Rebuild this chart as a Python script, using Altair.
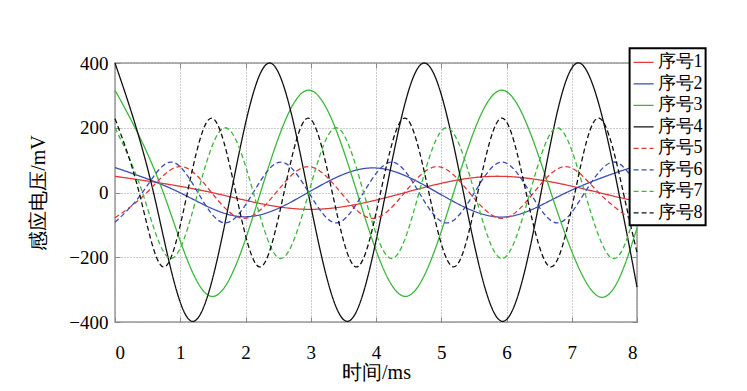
import altair as alt
import pandas as pd

names = ["序号1", "序号2", "序号3", "序号4", "序号5", "序号6", "序号7", "序号8"]

# key points (peaks, troughs, zero crossings), ms / mV
t1 = [0, 1.48, 2.96, 4.45, 5.93, 7.41, 8.0]
v1 = [50, 0, -52, 0, 50, 0, -27]

t2 = [0, 0.99, 1.97, 2.96, 3.95, 4.94, 5.93, 6.92, 7.9, 8.0]
v2 = [77, 0, -75, 0, 76, 0, -76, 0, 76, 75]

t3 = [0, 0.74, 1.48, 2.23, 2.97, 3.71, 4.45, 5.19, 5.93, 6.68, 7.42, 8.0]
v3 = [316, 0, -321, 0, 316, 0, -321, 0, 316, 0, -322, -110]

t4 = [0, 0.59, 1.18, 1.78, 2.37, 2.96, 3.56, 4.15, 4.74, 5.34, 5.94, 6.53, 7.12, 7.72, 8.0]
v4 = [400, 0, -398, 0, 400, 0, -398, 0, 400, 0, -398, 0, 400, 0, -292]

t5 = [0, 0.49, 0.99, 1.48, 1.97, 2.47, 2.96, 3.46, 3.95, 4.44, 4.94, 5.43, 5.93, 6.42, 6.91, 7.41, 7.9, 8.0]
v5 = [-78, 0, 80, 0, -80, 0, 80, 0, -80, 0, 80, 0, -80, 0, 80, 0, -80, -77]

t6 = [0, 0.42, 0.85, 1.27, 1.69, 2.12, 2.54, 2.97, 3.39, 3.81, 4.24, 4.66, 5.08, 5.51, 5.93, 6.36, 6.78, 7.2, 7.63, 8.0]
v6 = [-92, 0, 94, 0, -94, 0, 94, 0, -94, 0, 94, 0, -94, 0, 94, 0, -94, 0, 94, 20]

t7 = [0, 0.42, 0.85, 1.27, 1.69, 2.12, 2.54, 2.97, 3.39, 3.81, 4.24, 4.66, 5.08, 5.51, 5.93, 6.36, 6.78, 7.2, 7.63, 8.0]
v7 = [200, 0, -204, 0, 200, 0, -204, 0, 200, 0, -204, 0, 200, 0, -204, 0, 200, 0, -204, -40]

t8 = [0, 0.37, 0.74, 1.11, 1.48, 1.85, 2.22, 2.59, 2.96, 3.33, 3.7, 4.07, 4.44, 4.81, 5.19, 5.56, 5.93, 6.3, 6.68, 7.05, 7.42, 7.79, 8.0]
v8 = [228, 0, -230, 0, 230, 0, -230, 0, 230, 0, -230, 0, 230, 0, -230, 0, 230, 0, -230, 0, 230, 0, -185]

x_ticks = [0, 1, 2, 3, 4, 5, 6, 7, 8]
y_ticks = [-400, -200, 0, 200, 400]

series = [t1, t2, t3, t4, t5, t6, t7, t8]
values = [v1, v2, v3, v4, v5, v6, v7, v8]
rows = []
for name, ts, vs in zip(names, series, values):
    for t, v in zip(ts, vs):
        rows.append({"t": t, "v": v, "s": name})
df = pd.DataFrame(rows)

colors = ["#e0393b", "#3a4db5", "#3bb83b", "#111111",
          "#e0393b", "#3a4db5", "#3bb83b", "#111111"]
dashes = [[1, 0], [1, 0], [1, 0], [1, 0], [5, 3], [5, 3], [5, 3], [5, 3]]

FONT = "Liberation Serif"
TICK = "#888888"

leg = alt.Legend(
    title=None, orient="none", legendX=514.6, legendY=-14.7,
    labelFont=FONT, labelFontSize=18, labelColor="black",
    symbolType="stroke", symbolSize=400, symbolStrokeWidth=1.3,
    labelOffset=3, padding=3, rowPadding=1.5,
    fillColor="white", strokeColor="black",
)

xscale = alt.Scale(domain=[0, 8], nice=False)
yscale = alt.Scale(domain=[-400, 400], nice=False)

lines = alt.Chart(df).mark_line(interpolate="natural", strokeWidth=1.3).encode(
    x=alt.X("t:Q", scale=xscale,
            axis=alt.Axis(values=x_ticks, title="时间/ms", format="d", orient="bottom",
                          offset=-5, tickSize=5, tickColor=TICK, ticks=True,
                          labelFont=FONT, labelFontSize=19, labelPadding=21,
                          labelColor="black", domain=False,
                          grid=True, gridDash=[1, 2], gridColor="#999999",
                          titleFont=FONT, titleFontSize=20, titleFontWeight="normal",
                          titleColor="black", titleY=55, titleBaseline="middle")),
    y=alt.Y("v:Q", scale=yscale,
            axis=alt.Axis(values=y_ticks, title="感应电压/mV", orient="left",
                          offset=-5, tickSize=5, tickColor=TICK, ticks=True,
                          labelFont=FONT, labelFontSize=19, labelPadding=7,
                          labelColor="black", domain=False,
                          grid=True, gridDash=[1, 2], gridColor="#999999",
                          titleFont=FONT, titleFontSize=20, titleFontWeight="normal",
                          titleColor="black", titleX=-82, titleY=129.5,
                          titleBaseline="middle")),
    color=alt.Color("s:N", scale=alt.Scale(domain=names, range=colors), legend=leg),
    strokeDash=alt.StrokeDash("s:N", scale=alt.Scale(domain=names, range=dashes), legend=leg),
)

frame_ticks = alt.Chart(df).mark_line(opacity=0).encode(
    x=alt.X("t:Q", scale=xscale,
            axis=alt.Axis(values=x_ticks, orient="top", offset=-5, tickSize=5,
                          tickColor=TICK, labels=False, domain=False, grid=False,
                          title=None)),
    y=alt.Y("v:Q", scale=yscale,
            axis=alt.Axis(values=y_ticks, orient="right", offset=-5, tickSize=5,
                          tickColor=TICK, labels=False, domain=False, grid=False,
                          title=None)),
    detail="s:N",
)

chart = alt.layer(lines, frame_ticks).resolve_axis(
    x="independent", y="independent"
).properties(
    width=522, height=259,
    autosize=alt.AutoSizeParams(type="none"),
    padding={"left": 107, "top": 55, "right": 100, "bottom": 60},
).configure(
    font=FONT
).configure_view(
    stroke="#999999", strokeWidth=1.5
).configure_legend(
    strokeWidth=2
)

chart.save("out.html", embed_options={"renderer": "svg", "actions": False})
